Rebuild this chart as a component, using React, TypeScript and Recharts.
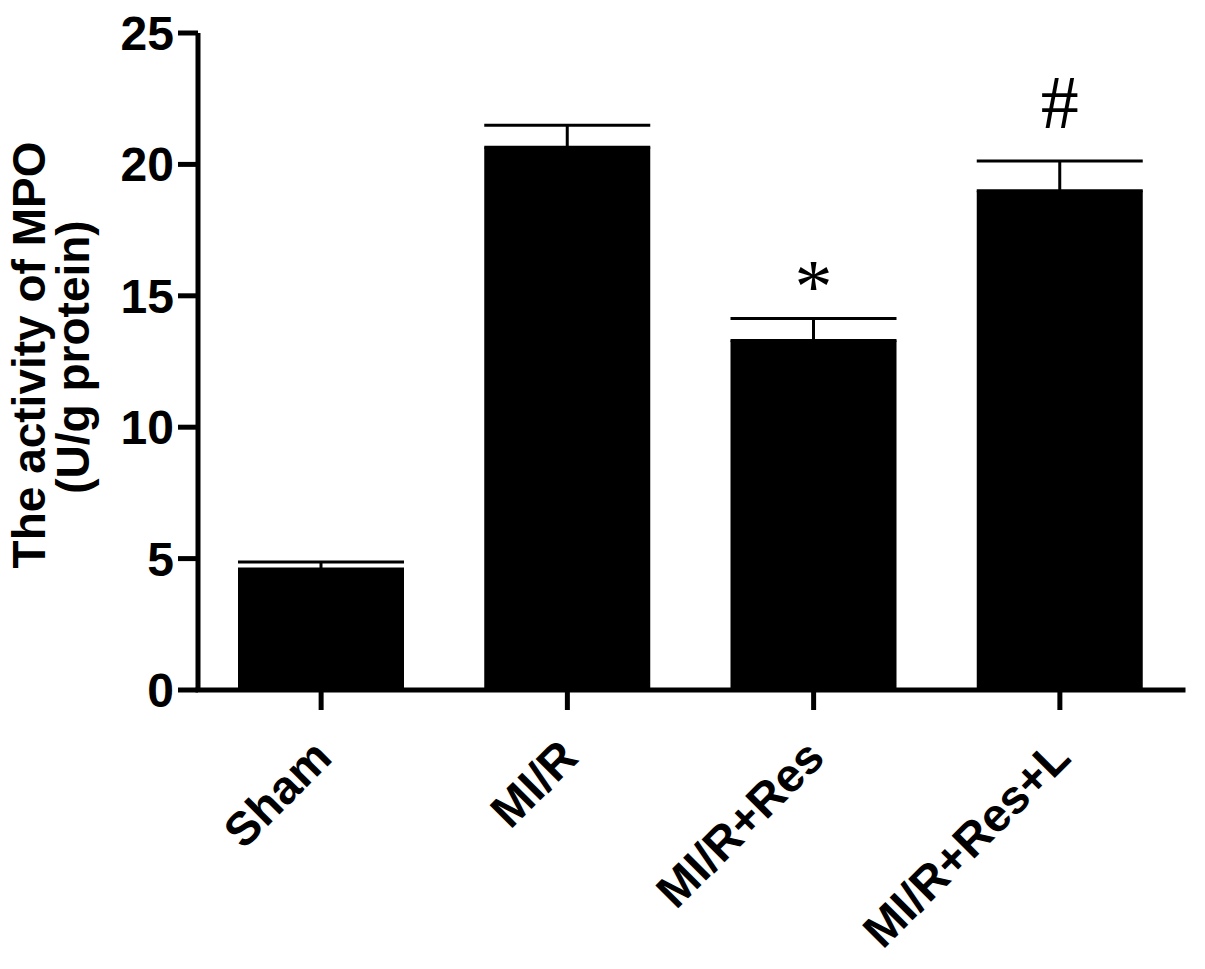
import React from "react";
import { BarChart, Bar, XAxis, YAxis, ErrorBar, LabelList } from "recharts";

const categories = ["Sham", "MI/R", "MI/R+Res", "MI/R+Res+L"];
const means = [4.6, 20.65, 13.3, 19.0];
const sems = [0.27, 0.84, 0.84, 1.13];
const marks = ["", "", "*", "#"];
const yTicks = [0, 5, 10, 15, 20, 25];

const data = categories.map((c, i) => ({
  name: c,
  value: means[i],
  err: [0, sems[i]],
  mark: marks[i],
}));

const markStyle: Record<string, { size: number; lift: number }> = {
  "*": { size: 76, lift: 6 },
  "#": { size: 76, lift: 33 },
};

const FONT = "'Liberation Sans', Arial, Helvetica, sans-serif";

const XTick = (props: any) => {
  const { x, y, payload } = props;
  const px = x + 13;
  const py = y + 50;
  return (
    <text
      x={px}
      y={py}
      transform={`rotate(-45, ${px}, ${py})`}
      textAnchor="end"
      fontFamily={FONT}
      fontWeight="bold"
      fontSize={47}
      fill="#000"
    >
      {payload.value}
    </text>
  );
};

const MarkLabel = (props: any) => {
  const { x, y, width, height, index, value } = props;
  if (!value) return null;
  const mean = means[index];
  const capY = y - (sems[index] * height) / mean;
  const st = markStyle[value] || { size: 72, lift: 10 };
  return (
    <text
      x={x + width / 2}
      y={capY - st.lift}
      textAnchor="middle"
      fontFamily="'Liberation Serif', 'Times New Roman', serif"
      fontSize={st.size}
      fill="#000"
    >
      {value}
    </text>
  );
};

const YTitle = () => (
  <text
    fontFamily={FONT}
    fontWeight="bold"
    fontSize={46}
    fill="#000"
    textAnchor="middle"
    transform="rotate(-90, 0, 0)"
  >
    <tspan x={-355} y={45}>The activity of MPO</tspan>
    <tspan x={-357} y={89}>(U/g protein)</tspan>
  </text>
);

export default function App() {
  return (
    <div style={{ position: "absolute", left: 0, top: 0, width: 1205, height: 969, background: "#fff" }}>
      <BarChart
        width={1205}
        height={969}
        data={data}
        margin={{ top: 33, right: 22, bottom: 0, left: 0 }}
        barSize={166}
      >
        <XAxis
          dataKey="name"
          height={279}
          axisLine={{ stroke: "#000", strokeWidth: 5, strokeLinecap: "square" }}
          tickLine={{ stroke: "#000", strokeWidth: 5 }}
          tickSize={20}
          tickMargin={0}
          tick={<XTick />}
          interval={0}
        />
        <YAxis
          width={198}
          domain={[0, 25]}
          ticks={yTicks}
          axisLine={{ stroke: "#000", strokeWidth: 5 }}
          tickLine={{ stroke: "#000", strokeWidth: 5 }}
          tickSize={20}
          tickMargin={4}
          tick={{ fontFamily: FONT, fontWeight: "bold", fontSize: 48, fill: "#000" }}
          label={{ content: () => <YTitle /> }}
        />
        <Bar dataKey="value" fill="#000" isAnimationActive={false}>
          <ErrorBar dataKey="err" width={83} strokeWidth={3} stroke="#000" direction="y" />
          <LabelList dataKey="mark" content={<MarkLabel />} />
        </Bar>
      </BarChart>
    </div>
  );
}
